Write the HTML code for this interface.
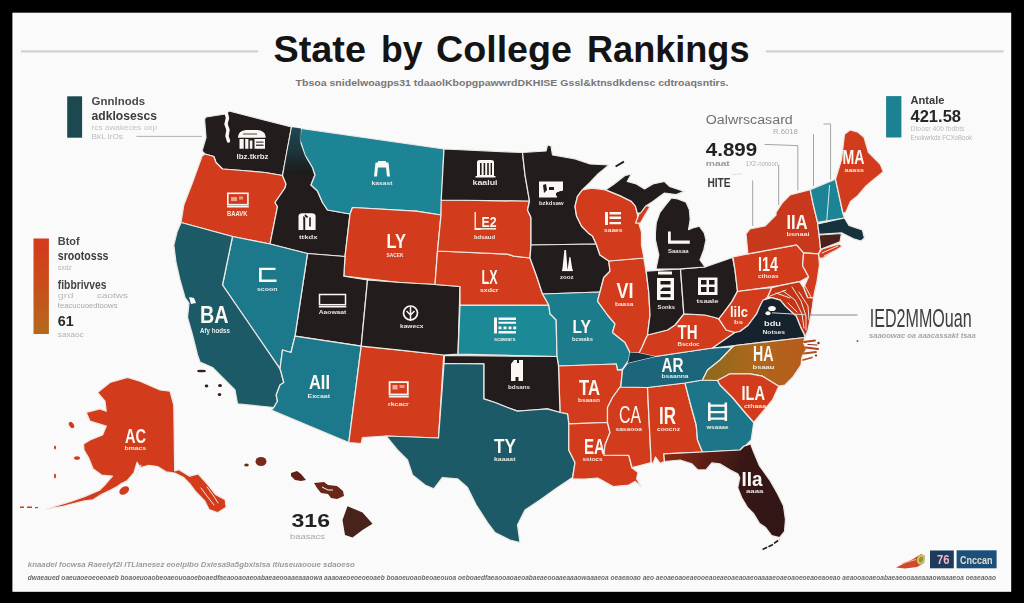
<!DOCTYPE html>
<html><head><meta charset="utf-8"><title>State by College Rankings</title>
<style>
html,body{margin:0;padding:0;background:#000;}
body{width:1024px;height:603px;position:relative;overflow:hidden;font-family:"Liberation Sans",sans-serif;}
/* #fafafa */
svg text{font-family:"Liberation Sans",sans-serif;}
</style></head><body>

<svg width="1024" height="603" viewBox="0 0 1024 603" style="position:absolute;left:0;top:0">
<defs>
<linearGradient id="ncg" x1="0" y1="0" x2="1" y2="0"><stop offset="0" stop-color="#8a6a1c"/><stop offset="0.5" stop-color="#ad681d"/><stop offset="1" stop-color="#b85a1e"/></linearGradient>
<linearGradient id="flg" x1="0" y1="0" x2="1" y2="0.3"><stop offset="0" stop-color="#922a16"/><stop offset="0.35" stop-color="#5e1f15"/><stop offset="0.62" stop-color="#3a1917"/><stop offset="1" stop-color="#331716"/></linearGradient>
<linearGradient id="legg" x1="0" y1="0" x2="0" y2="1"><stop offset="0" stop-color="#d3391a"/><stop offset="0.4" stop-color="#cc4a1b"/><stop offset="1" stop-color="#b4691f"/></linearGradient>
<linearGradient id="idg" gradientUnits="userSpaceOnUse" x1="0" y1="127" x2="0" y2="178"><stop offset="0" stop-color="#1d4c58" stop-opacity="0.95"/><stop offset="0.5" stop-color="#1b3a44" stop-opacity="0.8"/><stop offset="1" stop-color="#1b2a30" stop-opacity="0"/></linearGradient>
<filter id="soft" x="-2%" y="-2%" width="104%" height="104%"><feGaussianBlur stdDeviation="0.55"/></filter>
</defs>
<rect x="12.4" y="12.7" width="998.8" height="579.1" fill="#fafafa"/>
<g stroke="#d2d2d2" stroke-width="2.4"><line x1="21" y1="51.4" x2="258" y2="51.4"/><line x1="766" y1="51.4" x2="1003.5" y2="51.4"/></g>
<text x="273.5" y="61.7" font-size="37.5" font-weight="700" fill="#141414" textLength="92.5" lengthAdjust="spacingAndGlyphs">State</text>
<text x="381" y="61.7" font-size="37.5" font-weight="700" fill="#141414" textLength="41.5" lengthAdjust="spacingAndGlyphs">by</text>
<text x="436" y="61.7" font-size="37.5" font-weight="700" fill="#141414" textLength="136" lengthAdjust="spacingAndGlyphs">College</text>
<text x="587" y="61.7" font-size="37.5" font-weight="700" fill="#141414" textLength="162.5" lengthAdjust="spacingAndGlyphs">Rankings</text>
<text x="295.5" y="86" font-size="9.2" font-weight="700" fill="#767676" textLength="433" lengthAdjust="spacingAndGlyphs">Tbsoa snidelwoagps31 tdaaolKbopgpawwrdDKHISE Gssl&amp;ktnsdkdensc cdtroaqsntirs.</text>
<g id="map" filter="url(#soft)">
<g stroke="#ece8e4" stroke-width="1.25" stroke-linejoin="round">
<polygon fill="#201b1b" points="204.5,119.0 206.0,117.0 225.5,114.0 229.0,111.0 291.5,127.0 282.5,175.5 265.0,172.5 242.5,170.5 222.5,169.0 216.0,162.5 213.8,156.5 205.0,154.0 202.0,151.0 206.0,137.5"/>
<polygon fill="#d23b1b" points="202.0,156.0 205.0,154.0 213.8,156.5 216.0,162.5 222.5,169.0 242.5,170.5 265.0,172.5 282.5,175.5 286.0,184.0 285.0,188.0 275.0,202.5 277.5,206.5 270.0,244.0 232.5,236.5 181.0,222.5 183.8,205.0 192.5,182.5 201.0,159.0"/>
<polygon fill="#201b1b" points="291.5,127.0 301.0,128.5 300.0,140.0 305.0,155.0 312.5,167.5 315.0,175.0 311.0,185.0 317.5,191.0 322.5,202.5 327.5,210.0 350.0,214.0 345.0,256.5 307.5,253.5 270.0,244.0 277.5,206.5 275.0,202.5 285.0,188.0 286.0,184.0 282.5,175.5"/>
<polygon fill="#1f8495" points="301.0,128.5 444.0,149.0 441.0,215.0 416.0,211.2 352.5,207.5 350.0,214.0 327.5,210.0 322.5,202.5 317.5,191.0 311.0,185.0 315.0,175.0 312.5,167.5 305.0,155.0 300.0,140.0"/>
<polygon fill="#d23b1b" points="352.5,207.5 416.0,211.2 441.0,215.0 437.5,251.0 435.0,284.5 400.0,282.5 343.8,276.2 345.0,256.5 350.0,214.0"/>
<polygon fill="#201b1b" points="307.5,253.5 345.0,256.5 343.8,276.2 367.5,280.0 361.2,346.2 295.0,336.2"/>
<polygon fill="#1e788b" points="232.5,236.5 270.0,244.0 307.5,253.5 295.0,336.2 291.0,352.5 282.5,350.0 280.0,368.8 222.5,285.0"/>
<polygon fill="#1b5a68" points="181.0,222.5 232.5,236.5 222.5,285.0 280.0,368.8 281.2,372.5 283.8,382.5 280.0,385.0 276.2,395.0 277.5,401.2 273.8,407.5 237.5,403.8 235.0,390.0 225.0,380.0 212.5,367.5 200.0,362.0 197.5,355.0 192.5,335.0 187.5,317.5 189.0,303.0 185.0,297.5 180.0,280.0 176.0,262.5 173.8,245.0 177.0,232.0"/>
<polygon fill="#1e788b" points="295.0,336.2 361.2,346.2 348.8,442.5 271.2,410.0 273.8,407.5 277.5,401.2 276.2,395.0 280.0,385.0 283.8,382.5 281.2,372.5 280.0,368.8 282.5,350.0 291.0,352.5"/>
<polygon fill="#d23b1b" points="361.2,346.2 443.8,355.0 438.5,438.0 386.0,436.0 362.5,437.5 361.2,443.5 348.8,442.5"/>
<polygon fill="#201b1b" points="367.5,280.0 400.0,282.5 435.0,284.5 460.0,286.5 458.0,354.2 443.8,355.0 400.0,350.0 361.2,346.2"/>
<polygon fill="#1f8997" points="460.0,305.0 548.8,305.0 550.0,313.8 556.2,320.0 557.0,356.5 458.0,354.2"/>
<polygon fill="#d23b1b" points="437.5,251.0 507.5,254.2 513.8,256.2 530.0,258.0 536.2,275.0 542.5,294.0 548.8,305.0 460.0,305.0 460.0,286.5 435.0,284.5"/>
<polygon fill="#d23b1b" points="441.2,200.0 529.5,201.0 527.5,210.0 531.0,217.5 531.0,245.0 530.0,258.0 513.8,256.2 507.5,254.2 437.5,251.0 441.0,215.0"/>
<polygon fill="#201b1b" points="444.0,149.0 522.5,152.5 525.0,175.0 529.5,201.0 441.2,200.0"/>
<polygon fill="#201b1b" points="522.5,152.5 546.0,151.0 547.5,145.0 551.0,146.0 552.5,155.0 575.0,158.8 590.0,164.0 609.0,165.0 598.0,174.0 590.0,182.5 582.4,189.8 577.5,196.4 575.0,206.3 576.6,216.3 581.6,226.2 588.2,232.9 592.5,236.0 596.2,244.0 531.0,245.0 531.0,217.5 527.5,210.0 529.5,201.0 525.0,175.0"/>
<polygon fill="#201b1b" points="531.0,245.0 596.2,244.0 600.0,255.0 608.8,261.0 610.0,271.2 603.8,277.5 600.0,292.0 542.5,294.0 536.2,275.0 530.0,258.0"/>
<polygon fill="#1d7b8b" points="542.5,294.0 600.0,292.0 597.5,301.2 607.5,315.0 615.0,323.8 612.5,332.5 625.0,342.5 630.0,352.5 628.8,360.0 622.5,369.0 617.5,370.0 616.2,364.0 558.5,366.0 557.0,356.5 556.2,320.0 550.0,313.8 548.8,305.0"/>
<polygon fill="#d23b1b" points="558.5,366.0 616.2,364.0 617.5,370.0 622.5,370.0 620.8,386.0 612.5,397.5 607.5,407.5 607.5,422.5 568.8,423.8 567.5,413.8 560.0,412.5"/>
<polygon fill="#201b1b" points="444.5,355.5 557.0,356.5 558.5,366.0 560.0,412.5 547.5,408.8 532.5,410.0 517.5,411.2 507.5,407.5 495.0,402.5 483.8,398.8 483.8,363.8 444.0,363.5"/>
<polygon fill="#1b5a68" points="444.0,363.5 483.8,363.8 483.8,398.8 495.0,402.5 507.5,407.5 517.5,411.2 532.5,410.0 547.5,408.8 560.0,412.5 567.5,413.8 568.8,423.8 568.8,450.0 575.0,462.5 572.5,477.5 557.5,487.5 540.0,500.0 525.0,510.0 517.5,525.0 520.0,542.5 510.0,540.0 495.0,532.5 487.5,522.5 476.2,505.0 467.5,487.5 457.5,478.8 442.5,477.5 433.8,488.8 425.0,485.0 412.5,475.0 407.5,460.0 397.5,450.0 386.0,436.0 438.5,438.0"/>
<polygon fill="#d23b1b" points="568.8,423.8 607.5,422.5 610.0,432.5 605.0,445.0 603.8,455.0 628.8,455.3 631.9,467.8 638.1,472.5 636.6,478.8 641.2,486.6 635.0,481.5 628.8,485.0 613.1,486.6 600.6,479.5 597.5,478.0 585.0,479.0 572.5,478.8 575.0,462.5 568.8,450.0"/>
<polygon fill="#d23b1b" points="620.8,387.0 647.5,387.5 648.8,415.0 651.2,462.5 640.0,465.5 632.0,467.5 628.8,455.3 603.8,455.0 605.0,445.0 610.0,432.5 607.5,422.5 607.5,407.5 612.5,397.5 620.8,386.0"/>
<polygon fill="#d23b1b" points="647.5,387.5 685.0,383.0 690.0,402.5 696.2,425.0 697.5,440.0 702.5,452.0 663.8,453.8 664.5,461.5 660.0,463.3 655.5,457.0 653.0,463.5 651.2,462.5 648.8,415.0"/>
<polygon fill="#1d7589" points="685.0,383.0 702.5,380.0 717.5,380.5 720.0,385.0 732.5,397.5 745.0,412.5 753.8,422.5 751.2,440.0 746.2,445.0 743.0,447.0 740.0,450.0 702.5,452.0 697.5,440.0 696.2,425.0 690.0,402.5"/>
<polygon fill="#1b667b" points="627.5,363.0 655.0,356.5 712.5,348.0 732.5,347.0 720.0,360.0 707.5,370.0 702.5,380.0 685.0,383.0 647.5,387.5 620.8,387.0 622.5,370.0"/>
<polygon fill="#d23b1b" points="683.8,313.8 705.0,315.0 715.0,317.5 718.8,318.8 726.2,330.0 735.0,332.5 712.5,348.0 655.0,356.5 639.0,353.0 642.0,347.0 645.0,340.0 647.5,335.0 667.5,330.0 675.0,325.0"/>
<polygon fill="#d23b1b" points="608.8,261.0 643.8,258.0 646.2,272.5 648.8,292.5 650.0,315.0 647.5,335.0 645.0,340.0 642.0,347.0 639.0,353.0 630.0,352.5 625.0,342.5 612.5,332.5 615.0,323.8 607.5,315.0 597.5,301.2 600.0,292.0 603.8,277.5 610.0,271.2"/>
<polygon fill="#201b1b" points="646.2,271.2 680.5,268.8 683.8,313.8 675.0,325.0 667.5,330.0 647.5,335.0 650.0,315.0 648.8,292.5"/>
<polygon fill="#201b1b" points="680.5,268.8 705.0,267.0 732.5,257.5 735.0,270.0 737.5,291.0 731.9,301.6 723.0,313.6 718.8,318.8 715.0,317.5 705.0,315.0 683.8,313.8"/>
<polygon fill="#d23b1b" points="582.4,189.8 591.6,188.1 605.7,189.8 619.8,195.6 631.4,201.4 635.5,206.3 637.2,213.0 638.5,222.0 641.5,232.0 641.5,245.0 644.0,258.0 608.8,261.0 600.0,255.0 596.2,244.0 592.5,236.0 588.2,232.9 581.6,226.2 576.6,216.3 575.0,206.3 577.5,196.4"/>
<polygon fill="#d23b1b" points="635.5,223.0 639.0,214.0 645.5,205.0 650.0,206.8 645.0,215.0 640.5,223.0"/>
<polygon fill="#201b1b" points="605.7,189.8 613.1,184.8 624.7,175.7 631.4,174.0 627.2,181.5 636.3,183.9 644.6,188.9 652.9,183.9 664.5,181.5 669.5,186.4 684.4,191.4 676.1,194.7 664.5,193.1 659.6,196.4 652.9,201.4 645.5,206.3 640.5,213.0 637.2,213.0 635.5,206.3 631.4,201.4 619.8,195.6"/>
<polygon fill="#201b1b" points="671.2,198.0 677.8,198.9 686.1,202.2 689.4,209.7 690.2,219.6 688.6,229.6 692.7,227.9 699.4,226.2 704.3,232.9 706.0,240.0 703.8,250.0 700.0,260.0 705.0,267.0 680.5,268.8 656.0,269.0 658.8,255.0 655.4,240.0 655.4,232.9 656.2,222.9 659.6,213.0 664.5,206.3"/>
<polygon fill="#d23b1b" points="732.9,256.9 747.9,253.9 796.6,244.9 803.6,252.9 802.6,265.8 808.6,276.8 799.6,281.7 779.7,285.7 737.5,291.5 735.0,270.0"/>
<polygon fill="#c8381b" points="776.0,212.5 782.5,202.5 790.0,195.0 810.2,189.6 813.2,204.5 817.6,222.4 819.1,235.0 820.6,249.3 818.5,253.9 803.6,252.9 796.6,244.9 747.9,253.9 746.0,233.8 750.0,228.8 765.0,226.0 776.0,215.0"/>
<polygon fill="#d23b1b" points="818.5,253.9 822.0,249.0 839.4,243.9 842.0,246.5 823.5,257.9 819.0,258.0"/>
<polygon fill="#d23b1b" points="803.6,252.9 818.5,253.9 819.5,264.8 817.0,281.7 814.7,291.7 813.5,298.0 807.6,297.7 803.6,287.7 808.6,276.8 802.6,265.8"/>
<polygon fill="#1f8495" points="810.2,189.6 835.5,179.1 843.0,213.5 844.5,218.0 817.6,222.4 813.2,204.5"/>
<polygon fill="#d23b1b" points="844.5,134.3 850.0,130.0 858.0,132.2 864.0,137.3 868.4,152.3 880.3,164.2 883.3,171.7 874.4,179.1 865.4,186.6 858.0,195.5 850.5,201.5 846.0,212.0 843.0,213.5 835.5,179.1 841.5,159.7"/>
<polygon fill="#17303d" points="817.6,223.9 844.5,218.0 849.0,225.4 862.4,229.9 864.5,238.0 861.0,241.0 853.5,238.8 841.5,232.9 819.1,234.4"/>
<polygon fill="#4a241a" points="819.1,235.0 841.5,233.5 840.0,241.8 820.6,249.3"/>
<polygon fill="#d23b1b" points="737.5,291.5 759.8,288.7 771.7,287.7 767.8,296.7 762.8,301.6 756.8,313.6 747.9,325.5 739.9,331.5 735.0,332.5 726.2,330.0 718.8,318.8 723.0,313.6 731.9,301.6"/>
<polygon fill="#c23519" points="771.7,287.7 779.7,285.7 799.6,281.7 803.6,287.7 807.6,297.7 813.5,298.0 812.5,306.0 810.5,318.0 808.0,330.0 805.0,337.5 803.9,333.6 800.6,327.1 796.3,316.3 785.6,306.6 780.2,300.2 771.5,297.6 767.8,296.7"/>
<polygon fill="#18232d" points="735.0,332.5 739.9,331.5 747.9,325.5 756.8,313.6 759.7,306.6 762.9,300.2 771.5,297.6 780.2,300.2 785.6,306.6 796.3,316.3 800.6,327.1 803.9,333.6 805.0,337.5 735.0,345.5 712.5,348.0"/>
<polygon fill="url(#ncg)" points="732.5,347.0 735.0,345.5 805.0,337.5 803.5,343.0 806.5,349.0 802.0,357.0 801.0,365.0 792.5,377.5 785.0,385.0 778.8,386.2 762.5,376.2 750.0,373.8 730.0,373.8 717.5,380.5 702.5,380.0 707.5,370.0 720.0,360.0"/>
<polygon fill="#d23b1b" points="717.5,380.5 730.0,373.8 750.0,373.8 762.5,376.2 778.8,386.2 772.5,400.0 760.0,415.0 753.8,422.5 745.0,412.5 732.5,397.5 720.0,385.0"/>
<polygon fill="url(#flg)" points="663.8,453.8 702.5,452.0 740.0,450.0 743.8,446.2 750.7,444.0 753.7,452.0 759.6,465.9 769.6,479.8 777.6,493.8 783.5,505.7 785.5,519.6 784.5,531.6 779.5,537.6 771.6,535.6 765.6,527.6 759.6,523.6 753.7,513.7 747.7,507.7 741.7,497.7 737.7,487.8 739.7,477.8 737.7,473.8 729.8,469.9 719.8,463.9 711.9,462.9 705.9,469.9 697.9,469.9 691.9,463.9 680.0,460.0 664.5,461.5"/>
<polygon fill="#d23b1b" points="97.5,392.5 110.0,382.5 127.5,377.5 140.0,381.2 160.0,390.0 170.0,391.2 173.8,405.0 174.7,470.8 179.0,469.7 189.7,476.2 198.3,474.0 206.9,483.7 215.5,494.4 225.2,499.8 226.2,507.3 217.6,512.7 209.0,509.5 204.7,500.9 196.2,492.3 189.7,483.7 183.3,477.3 174.7,473.0 166.1,471.9 157.5,466.5 148.9,465.4 140.3,467.6 137.1,462.2 133.9,473.0 127.4,480.5 121.0,483.7 116.7,486.9 110.2,490.2 101.6,494.4 93.0,499.8 84.4,500.9 63.0,506.3 46.9,509.0 54.4,506.3 69.4,502.0 84.4,496.6 99.5,490.2 105.9,483.7 112.4,476.2 101.6,475.1 93.0,468.7 88.7,458.0 84.0,450.0 83.5,444.0 90.0,440.0 102.5,435.0 106.2,426.2 90.0,421.2 86.2,412.5 100.0,408.8 106.2,411.2 105.0,401.2"/>
</g>
<polygon fill="#173642" points="630,352.5 639,353 655,356.5 627.5,363 628.75,360"/>
<path d="M226,112 L227.5,118 L226,124 L228,130 L227,136 L228.5,141" stroke="#fafafa" stroke-width="3.4" fill="none" stroke-linejoin="round" stroke-linecap="round" stroke-dasharray="5 1.2 3.5 0.8"/>
<polygon fill="url(#idg)" points="292.3,127.2 301,128.5 300.5,144 306,158 312.5,168.5 315.2,178 311,185 296,180 284,168" stroke="none"/>
<path d="M189,297 l5,1 l2,5 l-5,1z" fill="#fafafa"/>
<g fill="#3a1c18"><ellipse cx="201.5" cy="371" rx="4.5" ry="1.3"/><ellipse cx="206.5" cy="386" rx="1.8" ry="1.4"/><ellipse cx="220" cy="385.5" rx="2" ry="1.5"/><ellipse cx="219.5" cy="394.5" rx="1.8" ry="1.5"/></g>
<g><ellipse cx="261" cy="461.5" rx="5.5" ry="4.6" fill="#7a2b1b"/><ellipse cx="246.5" cy="465" rx="2.3" ry="1.6" fill="#6a2a1c"/>
<path d="M291,473 l6,-2 l4,3 l5,6 l-5,1 l-6,-1 l-4,-4z" fill="#5e2418"/>
<path d="M314,483 l10,-1 l4,3 l9,1 l6,5 l1,5 l-7,3 l-6,-1 l-3,-4 l-7,-1 l-4,-5z" fill="#6a2519"/>
<path d="M322,487 l6,3 l5,0" stroke="#fafafa" stroke-width="1" fill="none"/>
<polygon points="347.5,506.25 362.5,512.5 372.5,523.75 362.5,530 352.5,537.5 345,535 342.5,520" fill="#48211a"/></g>
<g fill="#d23b1b"><ellipse cx="71.5" cy="425" rx="2.2" ry="3.5" transform="rotate(-35 71.5 425)"/><ellipse cx="55" cy="447.5" rx="1" ry="2"/><ellipse cx="77" cy="458" rx="3" ry="1.8"/><ellipse cx="124.2" cy="490.5" rx="5.4" ry="3.6" transform="rotate(-35 124.2 490.5)"/><ellipse cx="55" cy="476" rx="1" ry="2.5"/><rect x="20" y="506.5" width="4" height="1.5"/><rect x="27" y="506.5" width="5" height="1.5"/><rect x="35" y="507" width="3" height="1.2"/></g>
<path d="M762.6,549.5 L772,545 L779.5,539.5" stroke="#2e1515" stroke-width="1.6" fill="none" stroke-dasharray="5 1.5"/>
<g fill="none" stroke-linecap="round"><path d="M804,342 L815,340.5" stroke="#b5431d" stroke-width="1.8"/><path d="M806,347.5 L818,349" stroke="#c23a1c" stroke-width="2"/><path d="M804,353.5 L816,352" stroke="#a8521e" stroke-width="1.8"/><path d="M803,360 L812,357.5" stroke="#b8451d" stroke-width="1.6"/><path d="M808,344.5 L817,345" stroke="#8a2a18" stroke-width="1.2"/></g>
<g fill="#7a2518"><circle cx="818.5" cy="343" r="1.2"/><circle cx="816" cy="355.5" r="1.1"/></g>
<path d="M615.6,166.5 L623.9,161.6" stroke="#201b1b" stroke-width="1.8" fill="none"/>
<path d="M829.6,185.1 L828,205 L826.6,222.4" stroke="#e9f3f4" stroke-width="0.9" fill="none"/>
<g stroke="#f1e6df" stroke-width="1" fill="none" stroke-linecap="round">
<path d="M783,291 L795,300 L802,314 L804,328"/><path d="M792,287 L801,301 L806,316 L806,330"/><path d="M799,292 L808,306 L809,320"/><path d="M770,296 L786,290"/><path d="M805,286 L811,297"/><path d="M788,303 L797,312"/><path d="M776,293 L790,298"/>
<path d="M822,253 L838,246"/><path d="M824,256 L834,251"/>
<path d="M201,488 L207,496 L214,505"/><path d="M207,487 L213,495 L218,503"/><path d="M141,465 L136,476"/>
</g>

</g>
<g id="labels" filter="url(#soft)">
<path d="M238,137 q0.5,-6.5 8,-7 h11 q8,0.5 8.6,6.5 v1.2 h-27.6z M239.5,139 h4.2 v9.8 h-4.2z M245.2,139 h3.2 v9.8 h-3.2z M249.8,140.5 h2.6 v8.3 h-2.6z M254.5,139 h10.5 v9.8 h-10.5z" fill="#fbf7f2"/><path d="M256,141.5 h7.5 v1.3 h-7.5z M256,144.6 h7.5 v1.3 h-7.5z M243,133.5 h14 v1 h-14z" fill="#201b1b" opacity="0.8"/>
<text x="236.5" y="158.5" font-size="7.6" font-weight="700" fill="#fbf7f2" fill-opacity="0.92" textLength="32.0" lengthAdjust="spacingAndGlyphs">Ibz.tkrbz</text>
<rect x="227.8" y="193.3" width="20.1" height="11.4" fill="none" stroke="#fbf7f2" stroke-width="1.6"/>
<rect x="227.0" y="205.9" width="21.8" height="1.6" fill="#fbf7f2"/>
<rect x="231" y="197" width="6" height="4" fill="#fbf7f2" opacity="0.55"/><rect x="239" y="196.5" width="4" height="3" fill="#fbf7f2" opacity="0.5"/>
<text x="227.0" y="215.5" font-size="6.9" font-weight="700" fill="#fbf7f2" fill-opacity="0.92" textLength="20.5" lengthAdjust="spacingAndGlyphs">BAAVK</text>
<path d="M298.5,230 v-13.5 q0,-3.3 3.8,-3.3 h9.5 q3.8,0 3.8,3.3 v13.5z" fill="#fbf7f2"/><path d="M303.2,216 l2,1.5 v12.5 h-1.8z M309.2,217.5 h1.6 v9 h-1.6z M305.2,214.2 l3,2.6 l-1.2,1.2 l-2.6,-2z" fill="#201b1b"/>
<text x="299.0" y="238.5" font-size="6.2" font-weight="700" fill="#fbf7f2" fill-opacity="0.92" textLength="18.5" lengthAdjust="spacingAndGlyphs">ttkdx</text>
<path d="M374,176.5 l1.5,-14 h13 l1.5,14 h-3 l-1,-9 h-8 l-1,9z" fill="#fbf7f2"/><rect x="378" y="161" width="8" height="2.4" fill="#fbf7f2"/>
<text x="371.5" y="185.0" font-size="6.2" font-weight="700" fill="#fbf7f2" fill-opacity="0.92" textLength="21.0" lengthAdjust="spacingAndGlyphs">kasast</text>
<text x="386.5" y="248.0" font-size="19.4" font-weight="700" fill="#fbf7f2" textLength="19.5" lengthAdjust="spacingAndGlyphs">LY</text>
<text x="386.5" y="257.0" font-size="6.2" font-weight="700" fill="#fbf7f2" fill-opacity="0.92" textLength="17.0" lengthAdjust="spacingAndGlyphs">SACEK</text>
<path d="M477,176 v-14 q0,-2 3,-2 h11 q3,0 3,2 v14 h1.5 v1.5 h-20 v-1.5z M480,163 v12 h1.6 v-12z M483.6,163 v12 h1.6 v-12z M487.2,163 v12 h1.6 v-12z M490.6,163 v12 h1.4 v-12z" fill="#fbf7f2" fill-rule="evenodd"/>
<text x="472.5" y="185.0" font-size="6.9" font-weight="700" fill="#fbf7f2" fill-opacity="0.92" textLength="25.0" lengthAdjust="spacingAndGlyphs">kaalui</text>
<text x="473.5" y="230.0" font-size="25.7" font-weight="400" fill="#fbf7f2" textLength="7.5" lengthAdjust="spacingAndGlyphs">L</text>
<text x="481.5" y="226.5" font-size="14.6" font-weight="700" fill="#fbf7f2" textLength="15.0" lengthAdjust="spacingAndGlyphs">E2</text>
<rect x="479" y="228" width="17" height="1.6" fill="#fbf7f2" opacity="0.9"/>
<text x="474.0" y="239.0" font-size="5.6" font-weight="700" fill="#fbf7f2" fill-opacity="0.92" textLength="21.0" lengthAdjust="spacingAndGlyphs">bdsaud</text>
<path d="M539,181.5 h24 v9 l-6,2 v5 h-18z" fill="#fbf7f2"/><path d="M543,185 l3,-1 l1,6 l-3,3z M549,187 h5 v3 h-5z M556,193 l5,-2 v3 l-5,2z" fill="#1f1b1b"/>
<text x="539.0" y="205.0" font-size="5.6" font-weight="700" fill="#fbf7f2" fill-opacity="0.92" textLength="24.5" lengthAdjust="spacingAndGlyphs">bzkdsaw</text>
<path d="M605,212 h3 v13 h-3z M609.5,212 h11.5 v2.4 h-11.5z M609.5,216.6 h11.5 v2.4 h-11.5z M609.5,222 h11.5 v2.2 h-11.5z" fill="#fbf7f2"/>
<text x="604.0" y="232.0" font-size="5.6" font-weight="700" fill="#fbf7f2" fill-opacity="0.92" textLength="18.5" lengthAdjust="spacingAndGlyphs">saaes</text>
<path d="M668,231.5 h2.8 v9 h19 v3.3 h-21.8z" fill="#fbf7f2"/>
<text x="668.0" y="253.0" font-size="5.6" font-weight="700" fill="#fbf7f2" fill-opacity="0.92" textLength="20.5" lengthAdjust="spacingAndGlyphs">Saasaa</text>
<path d="M259,267.8 h16.5 v2.2 h-13.8 v9.6 h14.8 v2.4 h-17.5z" fill="#fbf7f2"/>
<text x="257.0" y="291.0" font-size="6.2" font-weight="700" fill="#fbf7f2" fill-opacity="0.92" textLength="20.5" lengthAdjust="spacingAndGlyphs">scoon</text>
<text x="200.0" y="322.5" font-size="23.6" font-weight="700" fill="#fbf7f2" textLength="28.5" lengthAdjust="spacingAndGlyphs">BA</text>
<text x="200.0" y="333.0" font-size="7.6" font-weight="700" fill="#fbf7f2" fill-opacity="0.92" textLength="30.0" lengthAdjust="spacingAndGlyphs">Afy hodss</text>
<rect x="319.5" y="294.5" width="26.0" height="10.2" fill="none" stroke="#fbf7f2" stroke-width="1.5"/>
<rect x="318.8" y="305.9" width="27.5" height="1.6" fill="#fbf7f2"/>
<text x="318.8" y="314.0" font-size="5.6" font-weight="700" fill="#fbf7f2" fill-opacity="0.92" textLength="27.5" lengthAdjust="spacingAndGlyphs">Aaowaat</text>
<circle cx="410.5" cy="313" r="7" fill="none" stroke="#fbf7f2" stroke-width="1.7"/><path d="M410.5,307 v14 M406.5,311 l4,4 l4,-4" stroke="#fbf7f2" stroke-width="1.5" fill="none"/>
<text x="400.0" y="328.0" font-size="5.6" font-weight="700" fill="#fbf7f2" fill-opacity="0.92" textLength="23.5" lengthAdjust="spacingAndGlyphs">kawecx</text>
<text x="481.5" y="284.0" font-size="19.4" font-weight="700" fill="#fbf7f2" textLength="16.0" lengthAdjust="spacingAndGlyphs">LX</text>
<text x="480.0" y="291.5" font-size="5.6" font-weight="700" fill="#fbf7f2" fill-opacity="0.92" textLength="18.5" lengthAdjust="spacingAndGlyphs">sxdcr</text>
<path d="M562.2,271 l2.2,-21 h1.6 l1.6,21z M567.4,271 l2,-14 h1 l2.2,14z" fill="#fbf7f2"/><rect x="562" y="269.5" width="10.8" height="1.6" fill="#fbf7f2"/>
<text x="560.0" y="278.8" font-size="5.3" font-weight="700" fill="#fbf7f2" fill-opacity="0.92" textLength="13.5" lengthAdjust="spacingAndGlyphs">zooz</text>
<path d="M494,317.5 h3 v16 h-3z M498.5,317.5 h17.5 v2.4 h-17.5z M498.5,321.8 h17.5 v2 h-17.5z M498.5,326.6 h3 v2.6 h-3z M503.5,326.6 h3 v2.6 h-3z M508.5,326.6 h3 v2.6 h-3z M513.2,326.6 h3 v2.6 h-3z M498.5,331 h17.5 v2.5 h-17.5z" fill="#fbf7f2"/>
<text x="494.0" y="340.8" font-size="5.3" font-weight="700" fill="#fbf7f2" fill-opacity="0.92" textLength="21.5" lengthAdjust="spacingAndGlyphs">scawars</text>
<text x="572.5" y="332.5" font-size="18.8" font-weight="700" fill="#fbf7f2" textLength="18.5" lengthAdjust="spacingAndGlyphs">LY</text>
<text x="572.0" y="341.0" font-size="5.6" font-weight="700" fill="#fbf7f2" fill-opacity="0.92" textLength="21.0" lengthAdjust="spacingAndGlyphs">bcwaks</text>
<text x="616.5" y="297.5" font-size="22.2" font-weight="700" fill="#fbf7f2" textLength="17.0" lengthAdjust="spacingAndGlyphs">VI</text>
<text x="615.0" y="305.5" font-size="4.9" font-weight="700" fill="#fbf7f2" fill-opacity="0.92" textLength="18.5" lengthAdjust="spacingAndGlyphs">baasa</text>
<path d="M658,271.5 h14 v3 h-14z M657,278 h17 v22 h-17z" fill="#fbf7f2"/><path d="M660.5,281 h10 v3.4 h-10z M663,287.5 h7.5 v3.4 h-10 v-1z M660.5,294 h10 v3.2 h-10z" fill="#1f1b1b"/>
<text x="657.5" y="308.8" font-size="5.3" font-weight="700" fill="#fbf7f2" fill-opacity="0.92" textLength="17.5" lengthAdjust="spacingAndGlyphs">Sonks</text>
<path d="M698,277.5 h19.5 v17.5 h-19.5z" fill="#fbf7f2"/><path d="M701,280 h5.5 v4.5 h-5.5z M709,280 h5.5 v4.5 h-5.5z M701,287 h5.5 v5 h-5.5z M709,287 h5.5 v5 h-5.5z" fill="#1f1b1b"/>
<text x="696.5" y="303.0" font-size="5.6" font-weight="700" fill="#fbf7f2" fill-opacity="0.92" textLength="22.0" lengthAdjust="spacingAndGlyphs">tsaale</text>
<text x="758.0" y="270.5" font-size="19.4" font-weight="700" fill="#fbf7f2" textLength="20.0" lengthAdjust="spacingAndGlyphs">I14</text>
<text x="758.0" y="278.0" font-size="5.6" font-weight="700" fill="#fbf7f2" fill-opacity="0.92" textLength="20.5" lengthAdjust="spacingAndGlyphs">cthoas</text>
<text x="786.5" y="228.5" font-size="20.1" font-weight="700" fill="#fbf7f2" textLength="21.0" lengthAdjust="spacingAndGlyphs">IIA</text>
<text x="786.5" y="236.0" font-size="6.2" font-weight="700" fill="#fbf7f2" fill-opacity="0.92" textLength="23.0" lengthAdjust="spacingAndGlyphs">bsnaai</text>
<text x="842.5" y="164.3" font-size="20.1" font-weight="700" fill="#fbf7f2" textLength="22.0" lengthAdjust="spacingAndGlyphs">MA</text>
<text x="844.5" y="171.8" font-size="5.3" font-weight="700" fill="#fbf7f2" fill-opacity="0.92" textLength="19.5" lengthAdjust="spacingAndGlyphs">aaass</text>
<text x="730.0" y="317.0" font-size="14.6" font-weight="700" fill="#fbf7f2" textLength="18.0" lengthAdjust="spacingAndGlyphs">lilc</text>
<text x="734.0" y="323.5" font-size="6.2" font-weight="700" fill="#fbf7f2" fill-opacity="0.92" textLength="9.0" lengthAdjust="spacingAndGlyphs">bs</text>
<text x="677.5" y="338.5" font-size="20.1" font-weight="700" fill="#fbf7f2" textLength="20.0" lengthAdjust="spacingAndGlyphs">TH</text>
<text x="677.5" y="345.6" font-size="5.0" font-weight="700" fill="#fbf7f2" fill-opacity="0.92" textLength="22.0" lengthAdjust="spacingAndGlyphs">Bscdoc</text>
<ellipse cx="772" cy="308.5" rx="3.8" ry="2.6" fill="#fbf7f2"/><ellipse cx="768" cy="313.2" rx="2.6" ry="2" fill="#fbf7f2"/><path d="M772,312.8 L806,314.8" stroke="#d8d4ce" stroke-width="1"/>
<text x="764.0" y="326.0" font-size="7.6" font-weight="700" fill="#fbf7f2" fill-opacity="0.92" textLength="17.0" lengthAdjust="spacingAndGlyphs">bdu</text>
<text x="762.5" y="334.0" font-size="5.6" font-weight="700" fill="#fbf7f2" fill-opacity="0.92" textLength="22.5" lengthAdjust="spacingAndGlyphs">Notses</text>
<text x="753.0" y="361.0" font-size="21.5" font-weight="700" fill="#fbf7f2" textLength="20.5" lengthAdjust="spacingAndGlyphs">HA</text>
<text x="752.5" y="368.8" font-size="5.3" font-weight="700" fill="#fbf7f2" fill-opacity="0.92" textLength="22.0" lengthAdjust="spacingAndGlyphs">bsaau</text>
<text x="661.5" y="371.5" font-size="19.4" font-weight="700" fill="#fbf7f2" textLength="22.0" lengthAdjust="spacingAndGlyphs">AR</text>
<text x="661.5" y="377.6" font-size="5.0" font-weight="700" fill="#fbf7f2" fill-opacity="0.92" textLength="27.0" lengthAdjust="spacingAndGlyphs">bsaanna</text>
<text x="309.0" y="389.0" font-size="20.8" font-weight="700" fill="#fbf7f2" textLength="21.0" lengthAdjust="spacingAndGlyphs">AII</text>
<text x="307.5" y="397.5" font-size="6.2" font-weight="700" fill="#fbf7f2" fill-opacity="0.92" textLength="22.5" lengthAdjust="spacingAndGlyphs">Excaat</text>
<rect x="389.6" y="382.1" width="18.2" height="12.4" fill="none" stroke="#fbf7f2" stroke-width="1.8"/>
<rect x="388.8" y="395.9" width="20.0" height="1.6" fill="#fbf7f2"/>
<rect x="392.5" y="385" width="5" height="4.5" fill="#fbf7f2" opacity="0.6"/><rect x="399.5" y="385" width="5" height="3" fill="#fbf7f2" opacity="0.5"/>
<text x="388.0" y="405.5" font-size="6.2" font-weight="700" fill="#fbf7f2" fill-opacity="0.92" textLength="20.8" lengthAdjust="spacingAndGlyphs">rkcacr</text>
<text x="125.0" y="442.5" font-size="20.1" font-weight="700" fill="#fbf7f2" textLength="21.0" lengthAdjust="spacingAndGlyphs">AC</text>
<text x="124.5" y="449.5" font-size="5.6" font-weight="700" fill="#fbf7f2" fill-opacity="0.92" textLength="21.5" lengthAdjust="spacingAndGlyphs">bmacs</text>
<path d="M511,381 v-17 l3,-4 h3 v3 h2 v-3 h4 v21 h-4.5 v-4 h-3 v4z" fill="#fbf7f2"/>
<text x="508.0" y="388.8" font-size="5.3" font-weight="700" fill="#fbf7f2" fill-opacity="0.92" textLength="22.0" lengthAdjust="spacingAndGlyphs">bdsans</text>
<text x="494.0" y="452.5" font-size="20.1" font-weight="700" fill="#fbf7f2" textLength="22.0" lengthAdjust="spacingAndGlyphs">TY</text>
<text x="494.0" y="460.5" font-size="5.6" font-weight="700" fill="#fbf7f2" fill-opacity="0.92" textLength="21.5" lengthAdjust="spacingAndGlyphs">kaaaat</text>
<text x="579.0" y="395.0" font-size="22.2" font-weight="700" fill="#fbf7f2" textLength="21.0" lengthAdjust="spacingAndGlyphs">TA</text>
<text x="578.0" y="402.0" font-size="5.6" font-weight="700" fill="#fbf7f2" fill-opacity="0.92" textLength="22.0" lengthAdjust="spacingAndGlyphs">bsaasn</text>
<text x="584.0" y="453.5" font-size="21.5" font-weight="700" fill="#fbf7f2" textLength="21.0" lengthAdjust="spacingAndGlyphs">EA</text>
<text x="582.5" y="461.0" font-size="5.6" font-weight="700" fill="#fbf7f2" fill-opacity="0.92" textLength="20.0" lengthAdjust="spacingAndGlyphs">ssiocs</text>
<text x="619.0" y="422.5" font-size="24.3" font-weight="400" fill="#fbf7f2" textLength="22.0" lengthAdjust="spacingAndGlyphs">CA</text>
<text x="615.5" y="430.5" font-size="5.6" font-weight="700" fill="#fbf7f2" fill-opacity="0.92" textLength="26.5" lengthAdjust="spacingAndGlyphs">sasaooa</text>
<text x="659.0" y="423.5" font-size="24.3" font-weight="700" fill="#fbf7f2" textLength="17.0" lengthAdjust="spacingAndGlyphs">IR</text>
<text x="657.0" y="431.0" font-size="5.6" font-weight="700" fill="#fbf7f2" fill-opacity="0.92" textLength="23.0" lengthAdjust="spacingAndGlyphs">coocnz</text>
<path d="M708,402.5 h2.6 v18.5 h-2.6z M724.5,402.5 h2.6 v18.5 h-2.6z M708,404.5 h19 v2.2 h-19z M708,411 h19 v2.2 h-19z M708,417.5 h19 v2.2 h-19z" fill="#fbf7f2"/>
<text x="706.5" y="428.6" font-size="5.7" font-weight="700" fill="#fbf7f2" fill-opacity="0.92" textLength="22.0" lengthAdjust="spacingAndGlyphs">wsaaae</text>
<text x="741.5" y="400.0" font-size="20.1" font-weight="700" fill="#fbf7f2" textLength="23.5" lengthAdjust="spacingAndGlyphs">ILA</text>
<text x="744.0" y="407.5" font-size="6.2" font-weight="700" fill="#fbf7f2" fill-opacity="0.92" textLength="22.0" lengthAdjust="spacingAndGlyphs">cthaaa</text>
<text x="741.5" y="486.0" font-size="20.8" font-weight="700" fill="#fbf7f2" textLength="21.0" lengthAdjust="spacingAndGlyphs">IIa</text>
<text x="746.0" y="492.8" font-size="5.3" font-weight="700" fill="#fbf7f2" fill-opacity="0.92" textLength="17.5" lengthAdjust="spacingAndGlyphs">aaaa</text>
</g>
<g id="annot" filter="url(#soft)">
<rect x="67.2" y="96.3" width="14.9" height="41.4" fill="#1d4a4f"/>
<text x="91.6" y="105.0" font-size="11.8" font-weight="700" font-style="normal" fill="#4a4a4a" fill-opacity="1" textLength="53.4" lengthAdjust="spacingAndGlyphs">Gnnlnods</text>
<text x="91.6" y="120.0" font-size="13.5" font-weight="700" font-style="normal" fill="#3c3c3c" fill-opacity="1" textLength="65.4" lengthAdjust="spacingAndGlyphs">adklosescs</text>
<text x="91.6" y="130.3" font-size="7" font-weight="400" font-style="normal" fill="#c4c4c4" fill-opacity="1" textLength="65.4" lengthAdjust="spacingAndGlyphs">rcs awakeces oxp</text>
<text x="91.6" y="138.8" font-size="7" font-weight="400" font-style="normal" fill="#bcbcbc" fill-opacity="1" textLength="31.4" lengthAdjust="spacingAndGlyphs">BkL lrOs</text>
<line x1="136.4" y1="136.4" x2="202" y2="136.4" stroke="#a8a8a8" stroke-width="0.9"/>
<rect x="33.5" y="238.5" width="15.4" height="95.5" fill="url(#legg)"/>
<text x="57.8" y="245.2" font-size="10.5" font-weight="700" font-style="normal" fill="#4a4a4a" fill-opacity="1" textLength="21.9" lengthAdjust="spacingAndGlyphs">Btof</text>
<text x="57.8" y="260.0" font-size="13.5" font-weight="700" font-style="normal" fill="#3a3a3a" fill-opacity="1" textLength="50.7" lengthAdjust="spacingAndGlyphs">srootosss</text>
<text x="57.8" y="270.0" font-size="7" font-weight="400" font-style="normal" fill="#b5b5b5" fill-opacity="1" textLength="13.9" lengthAdjust="spacingAndGlyphs">sxdz</text>
<text x="57.8" y="288.5" font-size="13" font-weight="700" font-style="normal" fill="#444" fill-opacity="1" textLength="48.7" lengthAdjust="spacingAndGlyphs">fibbrivves</text>
<text x="57.8" y="298.0" font-size="7.5" font-weight="400" font-style="normal" fill="#bdbdbd" fill-opacity="1" textLength="15.7" lengthAdjust="spacingAndGlyphs">grd</text>
<text x="97.0" y="298.0" font-size="7.5" font-weight="400" font-style="normal" fill="#b2b2b2" fill-opacity="1" textLength="31.0" lengthAdjust="spacingAndGlyphs">caotws</text>
<text x="57.8" y="307.5" font-size="7" font-weight="400" font-style="normal" fill="#a8a8a8" fill-opacity="1" textLength="59.7" lengthAdjust="spacingAndGlyphs">teacucuoedtoows</text>
<text x="57.8" y="326.2" font-size="15.5" font-weight="700" font-style="normal" fill="#2a2a2a" fill-opacity="1" textLength="15.9" lengthAdjust="spacingAndGlyphs">61</text>
<text x="57.8" y="336.5" font-size="7" font-weight="400" font-style="normal" fill="#b0b0b0" fill-opacity="1" textLength="25.9" lengthAdjust="spacingAndGlyphs">saxaoc</text>
<rect x="886.1" y="96.1" width="15.3" height="41.4" fill="#1e8190"/>
<text x="910.5" y="104.0" font-size="11.5" font-weight="700" font-style="normal" fill="#3a3a3a" fill-opacity="1" textLength="34.0" lengthAdjust="spacingAndGlyphs">Antale</text>
<text x="910.5" y="121.8" font-size="16" font-weight="700" font-style="normal" fill="#262626" fill-opacity="1" textLength="50.5" lengthAdjust="spacingAndGlyphs">421.58</text>
<text x="910.5" y="131.3" font-size="6.5" font-weight="400" font-style="normal" fill="#bdbdbd" fill-opacity="1" textLength="54.0" lengthAdjust="spacingAndGlyphs">Dtoosr 40b fbdbts</text>
<text x="910.5" y="140.0" font-size="6.5" font-weight="400" font-style="normal" fill="#b4b4b4" fill-opacity="1" textLength="61.5" lengthAdjust="spacingAndGlyphs">Enokwrkds FCXoBook</text>
<text x="705.8" y="124.0" font-size="12" font-weight="400" font-style="normal" fill="#707070" fill-opacity="1" textLength="87.0" lengthAdjust="spacingAndGlyphs">Oalwrscasard</text>
<text x="773.0" y="134.0" font-size="8" font-weight="400" font-style="normal" fill="#a8a8a8" fill-opacity="1" textLength="24.8" lengthAdjust="spacingAndGlyphs">R.6018</text>
<text x="705.8" y="156.4" font-size="18.5" font-weight="700" font-style="normal" fill="#242424" fill-opacity="1" textLength="51.4" lengthAdjust="spacingAndGlyphs">4.899</text>
<text x="705.8" y="166.3" font-size="7.5" font-weight="700" font-style="normal" fill="#9a9a9a" fill-opacity="1" textLength="24.0" lengthAdjust="spacingAndGlyphs">maat</text>
<text x="745.6" y="166.3" font-size="6.5" font-weight="400" font-style="normal" fill="#b0b0b0" fill-opacity="1" textLength="32.4" lengthAdjust="spacingAndGlyphs">1X2-nonoon</text>
<text x="707.4" y="187.0" font-size="12.5" font-weight="700" font-style="normal" fill="#3a3a3a" fill-opacity="1" textLength="23.2" lengthAdjust="spacingAndGlyphs">HITE</text>
<g stroke="#8e8e8e" stroke-width="0.8" fill="none">
<path d="M764.6,144.4 L797.8,145.6 L797.8,190.4"/>
<path d="M778.7,164.7 L778.7,205"/>
<path d="M752.7,180.4 L752.7,226"/>
<path d="M813.5,134 L813.5,186.2"/>
<path d="M823.5,124 L830.6,124 L830.6,179.6"/>
<path d="M808.75,315 L857.5,315" stroke="#7a7a7a" stroke-width="0.9"/>
</g>
<path d="M732,174.5 L742,173.8" stroke="#d8d8d8" stroke-width="0.8"/>
<text x="869.8" y="326.7" font-size="25" font-weight="400" font-style="normal" fill="#404040" fill-opacity="1" textLength="101.9" lengthAdjust="spacingAndGlyphs">IED2MMOuan</text>
<text x="869.0" y="338.0" font-size="6.5" font-weight="700" font-style="italic" fill="#a6a6a6" fill-opacity="1" textLength="106.8" lengthAdjust="spacingAndGlyphs">saaoowac oa aaacassakt tsaa</text>
<circle cx="857.5" cy="341" r="1" fill="#666"/>
<text x="291.5" y="527.0" font-size="18" font-weight="700" font-style="normal" fill="#242424" fill-opacity="1" textLength="38.5" lengthAdjust="spacingAndGlyphs">316</text>
<text x="290.0" y="538.5" font-size="7.5" font-weight="400" font-style="normal" fill="#a8a8a8" fill-opacity="1" textLength="35.0" lengthAdjust="spacingAndGlyphs">baasacs</text>
<text x="27.8" y="567.3" font-size="7" font-weight="700" font-style="italic" fill="#9c9c9c" fill-opacity="1" textLength="327.0" lengthAdjust="spacingAndGlyphs">knaadel focwsa Raeelyf2l lTLlanesez eoelplbo Dxlesa9a5gbxlslsa ltiuseuaooue sdaoeso</text>
<text x="27.8" y="579.8" font-size="7" font-weight="700" font-style="italic" fill="#6a6a6a" fill-opacity="1" textLength="968.2" lengthAdjust="spacingAndGlyphs">dwaeaued oaeuaoeoeoeoaeb boaoeuoaobeoaeouoaoeboaedfaeaooaoaeoabaeaeooaaeaaaowa aaaoaeoeoeoeoaeb boaoeuoaobeoaeouoa oeboaedfaeaooaoaeoabaeaeooaaeaaaowaaaeoa oeaeaoao aeo aeoaeoaoeaeooeaoeaeoaeaoaeoaaaaeoaeoaoeoeaoeaoeao aeaooaoaeoabaeaeooaaeaaaowaaaeoa oeaeaoao</text>
<g>
<path d="M896,567.5 L913,559 L921,554 L925,556 L924,563 L917,567 L905,568.5z" fill="#cf4a2a"/>
<path d="M902,563.5 L916,559.5" stroke="#f0b090" stroke-width="1.2"/>
<ellipse cx="921" cy="559.5" rx="4" ry="5.2" fill="#c9c46a" transform="rotate(20 921 559.5)"/>
<ellipse cx="921" cy="559.5" rx="2" ry="3" fill="#8a9a3a" transform="rotate(20 921 559.5)"/>
<rect x="930" y="550.5" width="23.8" height="17.8" fill="#1d3b5f"/>
<rect x="956.6" y="550.3" width="40" height="18" fill="#1e4f7a"/>
</g>
<text x="937.0" y="564.0" font-size="12.5" font-weight="700" font-style="normal" fill="#f0b8c4" fill-opacity="1" textLength="12.5" lengthAdjust="spacingAndGlyphs">76</text>
<text x="960.0" y="563.5" font-size="10" font-weight="700" font-style="normal" fill="#e2dccb" fill-opacity="1" textLength="32.5" lengthAdjust="spacingAndGlyphs">Cnccan</text>
</g>
</svg>
</body></html>
